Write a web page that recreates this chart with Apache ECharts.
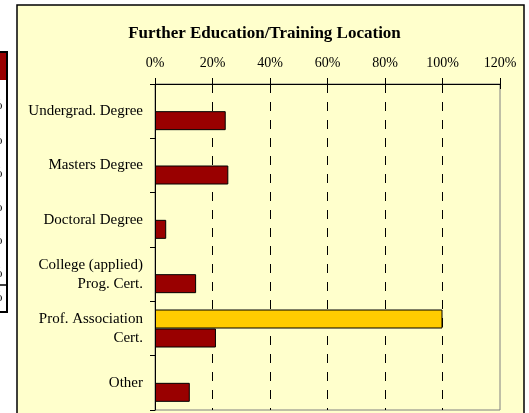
<!DOCTYPE html>
<html>
<head>
<meta charset="utf-8">
<script src="https://cdn.jsdelivr.net/npm/echarts@6/dist/echarts.min.js"></script>
<style>
  html, body { margin: 0; padding: 0; background: #ffffff; }
  #chart { width: 529px; height: 413px; }
</style>
</head>
<body>
<div id="chart"></div>
<script>
  // categories (top to bottom)
  var categories = ['Undergrad. Degree', 'Masters Degree', 'Doctoral Degree',
    'College (applied)\nProg. Cert.', 'Prof. Association\nCert.', 'Other'];
  // yellow series, only one bar
  var yellowValues = [null, null, null, null, 100, null];
  // dark red series
  var redValues = [24.6, 25.5, 3.9, 14.3, 21.2, 12.1];
  var xTicks = [0, 20, 40, 60, 80, 100, 120];
  // y of the cut-off "%" cells in the table at left edge
  var tableRowsY = [108, 143, 176, 210, 243, 276, 300];

  var serif = 'Liberation Serif';
  var myChart = echarts.init(document.getElementById('chart'));

  var graphics = [
    {
      type: 'rect', z: -100,
      shape: { x: 17, y: 5, width: 507, height: 520 },
      style: { fill: '#FFFFCC', stroke: '#000000', lineWidth: 1.5 }
    },
    {
      type: 'rect', z: -90,
      shape: { x: -6, y: 52, width: 13, height: 260 },
      style: { fill: '#ffffff', stroke: '#000000', lineWidth: 2 }
    },
    {
      type: 'rect', z: -80,
      shape: { x: -6, y: 53, width: 12, height: 27 },
      style: { fill: '#990000' }
    },
    {
      type: 'line', z: -80,
      shape: { x1: 0, y1: 285, x2: 7, y2: 285 },
      style: { stroke: '#000000', lineWidth: 1.5 }
    }
  ];
  for (var i = 0; i < tableRowsY.length; i++) {
    graphics.push({
      type: 'text', z: -70,
      x: 2.5, y: tableRowsY[i] - 3,
      style: { text: '%', fill: '#000', font: '14px "Liberation Serif"', align: 'right', verticalAlign: 'middle' }
    });
  }

  var option = {
    backgroundColor: '#ffffff',
    animation: false,
    title: {
      text: 'Further Education/Training Location',
      left: 'center',
      top: 20,
      textStyle: { fontFamily: serif, fontSize: 17, fontWeight: 'bold', color: '#000' }
    },
    graphic: graphics,
    grid: {
      left: 155, top: 84, right: 29, bottom: 3,
      show: true,
      backgroundColor: '#FFFFCC',
      borderColor: '#808080',
      borderWidth: 1
    },
    xAxis: [{
      type: 'value',
      position: 'top',
      min: xTicks[0],
      max: xTicks[xTicks.length - 1],
      interval: 20,
      axisLine: { show: true, lineStyle: { color: '#000', width: 1 } },
      axisTick: { show: true, length: 6, lineStyle: { color: '#000' } },
      axisLabel: {
        formatter: '{value}%', margin: 14,
        fontFamily: serif, fontSize: 14, color: '#000'
      },
      splitLine: {
        show: true,
        lineStyle: {
          color: ['#000', '#000', '#000', '#000', '#000', '#000', 'rgba(0,0,0,0)'],
          type: [9, 9], width: 1
        }
      }
    }, {
      // inner half of the crossing tick marks
      type: 'value',
      position: 'top',
      min: xTicks[0],
      max: xTicks[xTicks.length - 1],
      interval: 20,
      axisLine: { show: false },
      axisTick: { show: true, inside: true, length: 5, lineStyle: { color: '#000' } },
      axisLabel: { show: false },
      splitLine: { show: false }
    }],
    yAxis: {
      type: 'category',
      inverse: true,
      data: categories,
      axisLine: { show: true, lineStyle: { color: '#000', width: 1 } },
      axisTick: { show: true, length: 5, lineStyle: { color: '#000' } },
      axisLabel: {
        margin: 12, fontFamily: serif, fontSize: 15, color: '#000', lineHeight: 19
      }
    },
    series: [{
      name: 'yellow',
      type: 'bar',
      data: yellowValues,
      barWidth: 19,
      barGap: '0%',
      itemStyle: { color: '#FFCC00', borderColor: '#000', borderWidth: 1 }
    }, {
      name: 'red',
      type: 'bar',
      data: redValues,
      barWidth: 19,
      barGap: '0%',
      itemStyle: { color: '#990000', borderColor: '#000', borderWidth: 1 }
    }]
  };
  myChart.setOption(option);
</script>
</body>
</html>
